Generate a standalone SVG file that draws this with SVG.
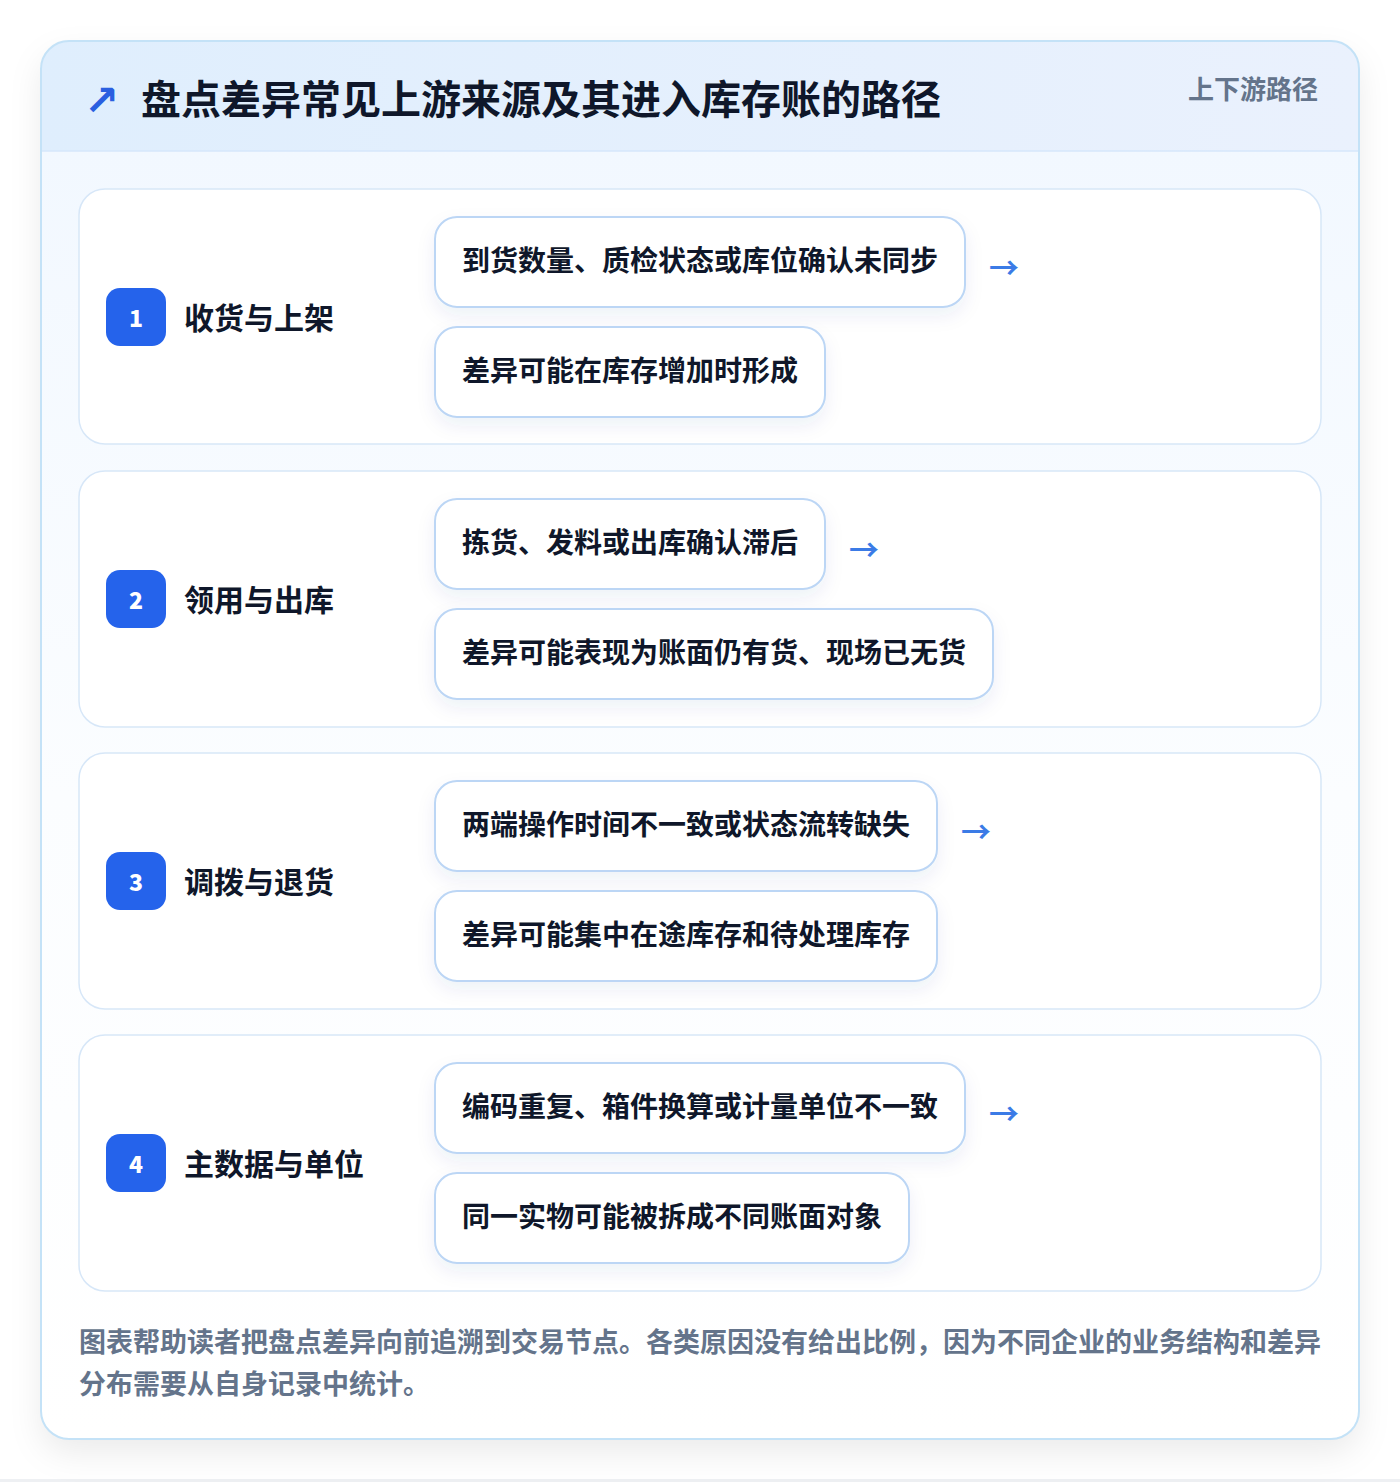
<svg xmlns="http://www.w3.org/2000/svg" width="1400" height="1482" viewBox="0 0 1400 1482">
<defs>
<style>
.cjk{font-family:"Noto Sans CJK SC","Noto Sans",sans-serif;font-weight:700}
.title{font-size:40px;fill:#0f172a}
.tag{font-size:26px;fill:#64748b}
.row{fill:#ffffff;stroke:#d7e7f8;stroke-width:1.5}
.badge{fill:#2563eb}
.num{font-family:"Noto Sans CJK SC","Noto Sans",sans-serif;font-weight:900;font-size:23px;fill:#ffffff}
.label{font-size:30px;fill:#0f172a}
.pill{fill:#ffffff;stroke:#bcd6f5;stroke-width:2}
.ptext{font-size:28px;fill:#0f172a}
.arrow{font-family:"Noto Sans CJK SC",sans-serif;font-weight:700;font-size:30px;fill:#3b7be6}
.foot{font-size:27px;fill:#64748b}
</style>
<linearGradient id="hdr" x1="0" y1="0" x2="1" y2="0">
<stop offset="0" stop-color="#dfeefd"/>
<stop offset="1" stop-color="#eaf1fd"/>
</linearGradient>
<linearGradient id="body" x1="0" y1="0" x2="0" y2="1">
<stop offset="0" stop-color="#f2f8ff"/>
<stop offset="0.5" stop-color="#fbfdff"/>
<stop offset="1" stop-color="#ffffff"/>
</linearGradient>
<clipPath id="cardclip"><rect x="41" y="41" width="1318" height="1398" rx="28"/></clipPath>
<filter id="cardsh" x="-10%" y="-10%" width="120%" height="120%">
<feDropShadow dx="0" dy="14" stdDeviation="16" flood-color="#0f172a" flood-opacity="0.08"/>
</filter>
<filter id="pillsh" x="-20%" y="-40%" width="140%" height="190%">
<feDropShadow dx="0" dy="8" stdDeviation="9" flood-color="#1e3a8a" flood-opacity="0.07"/>
</filter>
</defs>
<rect x="0" y="0" width="1400" height="1482" fill="#ffffff"/>
<rect x="0" y="1479" width="1400" height="3" fill="#eef0f3"/>

<g id="card">
<rect x="41" y="41" width="1318" height="1398" rx="28" fill="#ffffff" filter="url(#cardsh)"/>
<g clip-path="url(#cardclip)">
<rect x="41" y="151" width="1318" height="1288" fill="url(#body)"/>
<rect x="41" y="41" width="1318" height="110" fill="url(#hdr)"/>
<line x1="41" y1="151" x2="1359" y2="151" stroke="#d6e7fb" stroke-width="1.5"/>
</g>
<rect x="41" y="41" width="1318" height="1398" rx="28" fill="none" stroke="#c4e2f7" stroke-width="2"/>
</g>

<g id="header">
<text x="84" y="115" style="font-family:'DejaVu Sans',sans-serif;font-size:42px;fill:#2a5fe0;font-weight:700">↗</text>
<text x="141" y="114" class="cjk title">盘点差异常见上游来源及其进入库存账的路径</text>
<text x="1318" y="99" text-anchor="end" class="cjk tag">上下游路径</text>
</g>

<g id="step1">
<rect x="79" y="189" width="1242" height="255" rx="26" class="row"/>
<rect x="106" y="288" width="60" height="58" rx="14" class="badge"/>
<text x="136" y="327" text-anchor="middle" class="num">1</text>
<text x="184" y="329" class="cjk label">收货与上架</text>
<g id="step1-a" filter="url(#pillsh)"><rect x="435" y="217" width="530" height="90" rx="22" class="pill"/></g>
<text x="462" y="271" class="cjk ptext">到货数量、质检状态或库位确认未同步</text>
<g id="step1-b" filter="url(#pillsh)"><rect x="435" y="327" width="390" height="90" rx="22" class="pill"/></g>
<text x="462" y="381" class="cjk ptext">差异可能在库存增加时形成</text>
</g>

<g id="step2">
<rect x="79" y="471" width="1242" height="256" rx="26" class="row"/>
<rect x="106" y="570" width="60" height="58" rx="14" class="badge"/>
<text x="136" y="609" text-anchor="middle" class="num">2</text>
<text x="184" y="611" class="cjk label">领用与出库</text>
<g id="step2-a" filter="url(#pillsh)"><rect x="435" y="499" width="390" height="90" rx="22" class="pill"/></g>
<text x="462" y="553" class="cjk ptext">拣货、发料或出库确认滞后</text>
<g id="step2-b" filter="url(#pillsh)"><rect x="435" y="609" width="558" height="90" rx="22" class="pill"/></g>
<text x="462" y="663" class="cjk ptext">差异可能表现为账面仍有货、现场已无货</text>
</g>

<g id="step3">
<rect x="79" y="753" width="1242" height="256" rx="26" class="row"/>
<rect x="106" y="852" width="60" height="58" rx="14" class="badge"/>
<text x="136" y="891" text-anchor="middle" class="num">3</text>
<text x="184" y="893" class="cjk label">调拨与退货</text>
<g id="step3-a" filter="url(#pillsh)"><rect x="435" y="781" width="502" height="90" rx="22" class="pill"/></g>
<text x="462" y="835" class="cjk ptext">两端操作时间不一致或状态流转缺失</text>
<g id="step3-b" filter="url(#pillsh)"><rect x="435" y="891" width="502" height="90" rx="22" class="pill"/></g>
<text x="462" y="945" class="cjk ptext">差异可能集中在途库存和待处理库存</text>
</g>

<g id="step4">
<rect x="79" y="1035" width="1242" height="256" rx="26" class="row"/>
<rect x="106" y="1134" width="60" height="58" rx="14" class="badge"/>
<text x="136" y="1173" text-anchor="middle" class="num">4</text>
<text x="184" y="1175" class="cjk label">主数据与单位</text>
<g id="step4-a" filter="url(#pillsh)"><rect x="435" y="1063" width="530" height="90" rx="22" class="pill"/></g>
<text x="462" y="1117" class="cjk ptext">编码重复、箱件换算或计量单位不一致</text>
<g id="step4-b" filter="url(#pillsh)"><rect x="435" y="1173" width="474" height="90" rx="22" class="pill"/></g>
<text x="462" y="1227" class="cjk ptext">同一实物可能被拆成不同账面对象</text>
</g>

<g id="connectors">
<text x="989" y="279" class="arrow">→</text>
<text x="849" y="561" class="arrow">→</text>
<text x="961" y="843" class="arrow">→</text>
<text x="989" y="1125" class="arrow">→</text>
</g>

<g id="footer">
<text x="79" y="1352" class="cjk foot">图表帮助读者把盘点差异向前追溯到交易节点。各类原因没有给出比例，因为不同企业的业务结构和差异</text>
<text x="79" y="1394" class="cjk foot">分布需要从自身记录中统计。</text>
</g>
</svg>
